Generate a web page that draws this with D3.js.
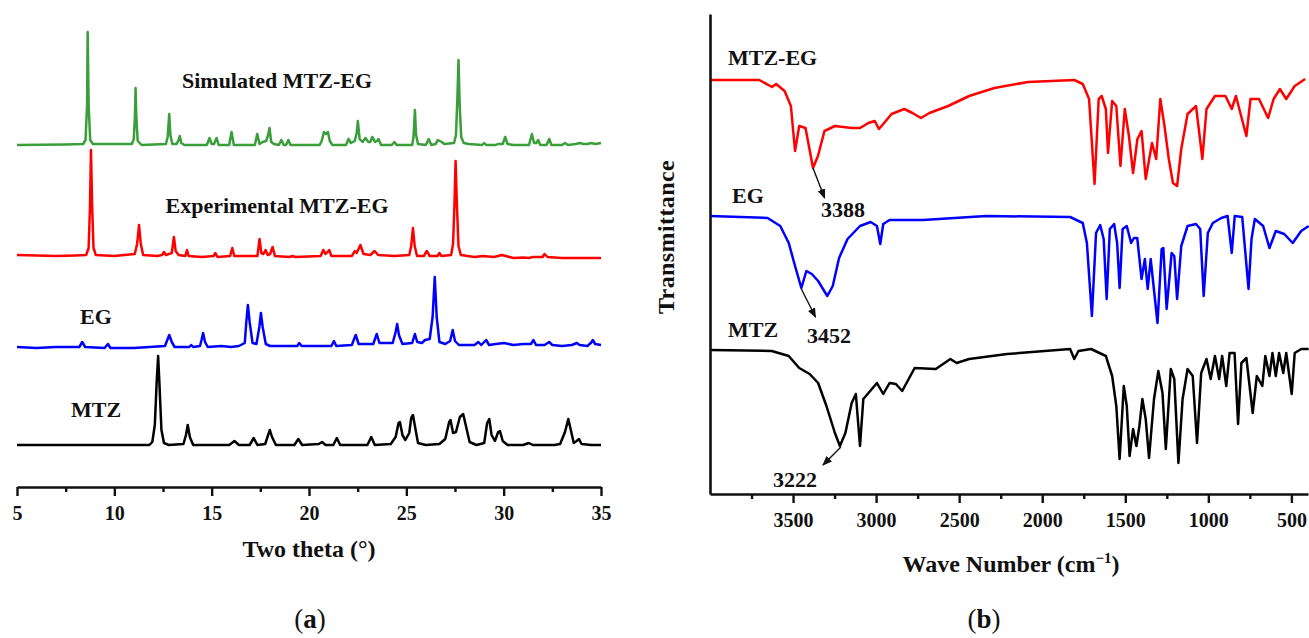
<!DOCTYPE html>
<html lang="en">

<head>
    <script src="https://d3js.org/d3.v7.min.js"></script>
    <style>
        body {
            margin: 0;
            background: #fff;
        }
        
        text {
            font-family: "Liberation Serif", "Times New Roman", serif;
            font-weight: bold;
            fill: #111;
        }
    </style>
</head>

<body>
    <div id="my_dataviz"></div>
    <script>
        // ---------- data: (a) PXRD, [two theta, intensity above own baseline] ----------
        var xrdNames = ["Simulated MTZ-EG", "Experimental MTZ-EG", "EG", "MTZ"];
        var xrdColors = ["#3a9e3a", "#ff0000", "#0000ff", "#000000"];
        var xrdOffsets = [342, 231, 140, 42];

        var simulated = [
            [5, 0], [7.5, 0.5], [8.4, 1], [8.52, 5], [8.6, 40], [8.63, 113], [8.68, 40], [8.76, 5], [8.9, 1],
            [10.9, 1], [11.0, 6], [11.06, 30], [11.09, 57], [11.13, 28], [11.2, 4], [11.4, 0],
            [12.65, 1], [12.74, 8], [12.82, 31], [12.88, 10], [12.98, 1], [13.2, 1], [13.3, 5], [13.36, 9], [13.44, 2], [13.6, 0],
            [14.75, 0], [14.89, 7], [15.0, 1], [15.12, 1], [15.25, 7], [15.36, 0],
            [15.9, 0], [16.02, 13], [16.14, 0],
            [17.22, 0], [17.34, 11], [17.46, 1], [17.62, 3], [17.8, 4], [17.9, 10], [17.97, 17], [18.06, 3], [18.2, 1],
            [18.45, 0], [18.58, 5], [18.7, 0], [18.82, 0], [18.94, 5], [19.05, 0],
            [20.55, 0], [20.65, 4], [20.77, 13], [20.87, 11], [20.97, 13], [21.07, 4], [21.2, 0],
            [21.9, 0], [22.03, 6], [22.15, 2], [22.35, 4], [22.45, 12], [22.51, 24], [22.6, 6], [22.75, 3], [22.9, 7],
            [23.05, 3], [23.15, 3], [23.25, 8], [23.4, 3], [23.5, 4], [23.57, 6], [23.7, 0],
            [24.25, 0], [24.39, 3], [24.5, 0],
            [25.3, 0], [25.37, 8], [25.44, 35], [25.5, 10], [25.6, 1],
            [26.0, 0], [26.15, 6], [26.28, 0], [26.5, 1], [26.62, 5], [26.72, 4], [26.82, 3], [26.95, 1],
            [27.45, 2], [27.55, 10], [27.62, 45], [27.68, 85], [27.74, 40], [27.82, 8], [27.95, 2], [28.2, 1],
            [28.9, 0], [29.0, 2], [29.1, 0], [29.6, 0], [29.7, 1], [29.95, 1], [30.08, 8], [30.2, 1], [30.5, 0],
            [31.3, 0], [31.45, 11], [31.56, 2], [31.68, 2], [31.77, 5], [31.88, 0], [32.2, 0], [32.34, 6], [32.45, 0],
            [33.0, 0], [33.15, 2], [33.3, 0], [33.7, 1], [33.92, 2], [34.1, 1], [34.3, 1], [34.5, 2], [34.7, 1], [35, 2]
        ];

        var experimental = [
            [5, 1], [6, 0.5], [7, 0], [8, 0.5], [8.55, 1], [8.68, 8], [8.75, 50], [8.8, 106], [8.86, 50], [8.93, 8], [9.05, 1],
            [10, 0], [11.05, 2], [11.17, 12], [11.27, 31], [11.36, 12], [11.48, 1], [12.2, 0], [12.45, 1], [12.55, 4], [12.65, 1],
            [12.95, 3], [13.06, 19], [13.15, 5], [13.3, 1], [13.65, 0], [13.73, 6], [13.82, 0], [14.5, -1], [15.1, 0], [15.19, 3],
            [15.3, -1], [15.95, 0], [16.06, 8], [16.16, 0], [17.35, 0], [17.46, 17], [17.55, 3], [17.66, 2], [17.77, 6], [17.88, 1],
            [18.0, 2], [18.13, 9], [18.25, 0], [19.0, -1], [19.15, 0], [19.3, -1], [20.6, 0], [20.73, 6], [20.85, 2], [21.04, 6],
            [21.15, 0], [22.2, 0], [22.36, 5], [22.45, 3], [22.64, 11], [22.8, 2], [23.15, 1], [23.37, 5], [23.55, 1], [24.4, 0],
            [25.15, 1], [25.25, 10], [25.34, 28], [25.43, 10], [25.55, 0], [25.9, 0], [26.05, 5], [26.2, 0], [26.6, 0], [26.7, 3],
            [26.8, 0], [27.3, 1], [27.4, 12], [27.47, 50], [27.53, 95], [27.6, 50], [27.68, 10], [27.8, 1], [28.5, -1], [28.93, 0],
            [29.5, -1], [29.91, 1], [30.5, -2], [31.0, -1.5], [31.3, -2], [31.5, -1], [32.0, -1], [32.1, 2], [32.25, -1], [33, -2],
            [34, -2], [35, -2]
        ];

        var eg = [
            [5, 0], [6, -1], [7, 0], [8.2, 0], [8.35, 5], [8.5, 0], [9.5, -1], [9.67, 3], [9.8, -1], [11, -1], [12.6, 1], [12.7, 6],
            [12.82, 12], [12.95, 5], [13.1, 0], [13.85, 0], [13.95, 2], [14.05, 0], [14.4, 1], [14.48, 7], [14.56, 14], [14.66, 5],
            [14.8, 0], [15.5, 1], [16.0, 0], [16.4, 1], [16.7, 4], [16.78, 25], [16.86, 42], [16.95, 25], [17.1, 4], [17.3, 3],
            [17.45, 20], [17.53, 34], [17.62, 20], [17.78, 3], [18.0, 1], [18.8, 1], [19.4, 1], [19.5, 4], [19.62, 1], [20.5, 1],
            [21.15, 1], [21.28, 6], [21.4, 1], [22.2, 2], [22.4, 12], [22.55, 3], [23.3, 3], [23.48, 13], [23.62, 4], [24.3, 4],
            [24.45, 15], [24.53, 23], [24.62, 12], [24.8, 3], [25.3, 4], [25.44, 13], [25.56, 5], [25.8, 4], [25.96, 7], [26.2, 8],
            [26.35, 30], [26.46, 70], [26.56, 30], [26.7, 5], [27.0, 3], [27.25, 6], [27.38, 17], [27.5, 6], [27.7, 2], [28.5, 2],
            [28.7, 5], [28.85, 2], [29.1, 7], [29.25, 2], [29.6, 3], [30.01, 4], [30.5, 2], [31.0, 3], [31.4, 3], [31.53, 7],
            [31.66, 2], [32.1, 2], [32.34, 5], [32.5, 2], [33.0, 1], [33.5, 2], [33.76, 4], [33.9, 2], [34.3, 1], [34.48, 4],
            [34.58, 7], [34.7, 3], [35, 2]
        ];

        var mtz = [
            [5, 0], [9, 0], [11.8, 0], [11.95, 3], [12.08, 20], [12.18, 65], [12.25, 89], [12.32, 60], [12.42, 15], [12.55, 2],
            [12.8, 0], [13.55, 1], [13.68, 10], [13.77, 20], [13.88, 8], [14.05, 0], [15.9, 0], [16.17, 4], [16.4, 0], [16.95, 0],
            [17.16, 7], [17.35, 0], [17.75, 1], [17.9, 10], [17.99, 15], [18.1, 8], [18.3, 0], [19.25, 0], [19.45, 6], [19.65, 0],
            [20.5, 1], [20.67, 3], [20.85, 0], [21.25, 0], [21.43, 7], [21.6, 0], [22.5, 0], [23.0, 0], [23.2, 8], [23.38, 0],
            [24.2, 1], [24.45, 8], [24.6, 22], [24.67, 23], [24.8, 10], [24.95, 5], [25.15, 12], [25.25, 27], [25.34, 30],
            [25.45, 18], [25.6, 2], [26.0, 0], [26.7, 1], [27.0, 6], [27.2, 23], [27.27, 25], [27.4, 12], [27.55, 13], [27.75, 28],
            [27.92, 31], [28.05, 20], [28.25, 3], [28.6, 0], [29.0, 2], [29.15, 22], [29.26, 26], [29.38, 10], [29.55, 4],
            [29.72, 13], [29.81, 14], [29.95, 4], [30.2, 0], [31.0, 0], [31.29, 2], [31.5, 0], [32.6, 0], [32.9, 1], [33.15, 13],
            [33.32, 26], [33.45, 15], [33.6, 2], [33.75, 4], [33.87, 6], [34.0, 1], [34.5, 0], [35, 0]
        ];

        var xrdSeries = [simulated, experimental, eg, mtz];
        var xrdMajorTicks = [5, 10, 15, 20, 25, 30, 35];
        var xrdMinorTicks = [7.5, 12.5, 17.5, 22.5, 27.5, 32.5];

        // ---------- data: (b) FTIR, [wave number, transmittance relative to own top level] ----------
        var irNames = ["MTZ-EG", "EG", "MTZ"];
        var irColors = ["#ff0000", "#0000ff", "#000000"];
        var irOffsets = [414, 278, 144];

        var irMtzEg = [
            [4000, 0], [3703, 0], [3627, -7], [3602, -4], [3551, -11], [3513, -26], [3488, -71], [3463, -46], [3425, -48],
            [3380, -88], [3350, -76], [3311, -51], [3248, -46], [3147, -48], [3097, -48], [3046, -43], [3008, -41], [2983, -49],
            [2957, -44], [2907, -34], [2831, -29], [2781, -33], [2730, -38], [2679, -33], [2566, -26], [2440, -16], [2288, -8],
            [2086, -2], [1807, 0], [1756, -4], [1718, -19], [1685, -104], [1660, -19], [1642, -16], [1617, -29], [1604, -73],
            [1579, -21], [1554, -26], [1529, -86], [1503, -29], [1478, -56], [1453, -93], [1427, -59], [1402, -51], [1377, -99],
            [1339, -63], [1314, -79], [1289, -19], [1264, -46], [1238, -79], [1213, -103], [1188, -106], [1163, -69], [1125, -34],
            [1074, -26], [1036, -79], [1011, -29], [960, -16], [897, -16], [859, -29], [834, -16], [771, -56], [746, -19],
            [695, -19], [640, -38], [607, -19], [569, -9], [531, -19], [480, -6], [417, 1]
        ];

        var irEg = [
            [4000, 0], [3653, -2], [3577, -10], [3526, -27], [3488, -50], [3450, -72], [3420, -55], [3387, -58], [3349, -65],
            [3294, -80], [3261, -70], [3223, -42], [3172, -23], [3097, -10], [3033, -6], [2995, -10], [2975, -28], [2957, -8],
            [2919, -4], [2717, -4], [2338, 0], [1832, -1], [1756, -7], [1731, -27], [1701, -100], [1676, -17], [1651, -9],
            [1630, -23], [1612, -83], [1593, -13], [1567, -8], [1549, -27], [1534, -72], [1516, -13], [1491, -10], [1465, -27],
            [1448, -22], [1428, -22], [1402, -63], [1382, -43], [1365, -73], [1347, -43], [1306, -107], [1281, -33], [1271, -32],
            [1251, -93], [1221, -37], [1205, -40], [1188, -83], [1163, -30], [1125, -10], [1074, -8], [1049, -13], [1028, -80],
            [1003, -17], [973, -7], [922, -2], [884, 0], [859, -37], [841, 0], [796, -1], [758, -73], [740, -23], [720, -3],
            [670, -10], [632, -32], [594, -15], [543, -18], [492, -27], [441, -15], [396, -10]
        ];

        var irMtz = [
            [4000, 0], [3628, -1], [3526, -6], [3463, -18], [3400, -24], [3349, -33], [3299, -56], [3248, -83], [3218, -96],
            [3185, -83], [3147, -53], [3122, -44], [3097, -96], [3077, -49], [3046, -43], [2995, -33], [2957, -44], [2919, -33],
            [2881, -34], [2843, -41], [2768, -18], [2641, -19], [2553, -9], [2515, -13], [2440, -9], [2212, -4], [1832, 1],
            [1807, -9], [1782, -1], [1706, 1], [1617, -6], [1579, -26], [1554, -56], [1534, -109], [1509, -36], [1491, -56],
            [1474, -106], [1453, -79], [1433, -96], [1415, -76], [1397, -49], [1377, -69], [1357, -108], [1327, -49], [1301, -21],
            [1276, -43], [1256, -99], [1226, -19], [1205, -29], [1180, -113], [1155, -49], [1125, -19], [1094, -26], [1068, -93],
            [1043, -23], [1011, -9], [986, -29], [960, -6], [935, -29], [917, -6], [892, -36], [872, -3], [842, -3], [821, -74],
            [801, -13], [771, -8], [733, -63], [708, -26], [675, -36], [657, -6], [632, -26], [614, -3], [594, -26], [574, -3],
            [549, -23], [531, -3], [498, -44], [480, -3], [441, 1], [396, 1]
        ];

        var irSeries = [irMtzEg, irEg, irMtz];
        var irMajorTicks = [3500, 3000, 2500, 2000, 1500, 1000, 500];
        var irMinorTicks = [3750, 3250, 2750, 2250, 1750, 1250, 750];

        // band annotations: [label, arrow start wn, arrow start value, arrow end wn, arrow end value]
        var irMarks = [
            ["3388", 3380, 326, 3310, 296],
            ["3452", 3450, 205, 3365, 177],
            ["3222", 3212, 47, 3320, 29]
        ];

        // ---------- svg ----------
        var svg = d3.select("#my_dataviz")
            .append("svg")
            .attr("width", 1309)
            .attr("height", 638);

        svg.append("defs").append("marker")
            .attr("id", "arrow")
            .attr("viewBox", "0 0 10 10")
            .attr("refX", 9)
            .attr("refY", 5)
            .attr("markerWidth", 7)
            .attr("markerHeight", 7)
            .attr("orient", "auto")
            .append("path")
            .attr("d", "M0,1 L10,5 L0,9 Z")
            .attr("fill", "#111");

        // ================= (a) PXRD =================
        var xA = d3.scaleLinear().domain([5, 35]).range([17, 601]);
        var yA = d3.scaleLinear().domain([0, 460]).range([487, 27]);

        xrdSeries.forEach(function(s, i) {
            var line = d3.line()
                .x(function(d) { return xA(d[0]); })
                .y(function(d) { return yA(xrdOffsets[i] + d[1]); });
            svg.append("path")
                .datum(s)
                .attr("fill", "none")
                .attr("stroke", xrdColors[i])
                .attr("stroke-width", 2.5)
                .attr("stroke-linejoin", "round")
                .attr("d", line);
        });

        // X axis (major + minor)
        var axA = svg.append("g")
            .attr("transform", "translate(0," + yA(0) + ")")
            .call(d3.axisBottom(xA).tickValues(xrdMajorTicks).tickSize(9).tickSizeOuter(0).tickPadding(10).tickFormat(d3.format("d")));
        svg.append("g")
            .attr("transform", "translate(0," + yA(0) + ")")
            .call(d3.axisBottom(xA).tickValues(xrdMinorTicks).tickSize(5).tickFormat(""))
            .select(".domain").remove();

        svg.append("text")
            .attr("x", 309)
            .attr("y", 557)
            .attr("text-anchor", "middle")
            .style("font-size", "24px")
            .text("Two theta (°)");

        // trace labels
        var xrdLabelPos = [[277, 88, "middle"], [277, 213, "middle"], [96, 324, "middle"], [96, 417, "middle"]];
        xrdNames.forEach(function(n, i) {
            svg.append("text")
                .attr("x", xrdLabelPos[i][0])
                .attr("y", xrdLabelPos[i][1])
                .attr("text-anchor", xrdLabelPos[i][2])
                .style("font-size", "22px")
                .text(n);
        });

        // ================= (b) FTIR =================
        var xB = d3.scaleLinear().domain([4000, 400]).range([710, 1308]);
        var yB = d3.scaleLinear().domain([0, 480]).range([494, 14]);

        irSeries.forEach(function(s, i) {
            var line = d3.line()
                .x(function(d) { return xB(d[0]); })
                .y(function(d) { return yB(irOffsets[i] + d[1]); });
            svg.append("path")
                .datum(s)
                .attr("fill", "none")
                .attr("stroke", irColors[i])
                .attr("stroke-width", 2.5)
                .attr("stroke-linejoin", "round")
                .attr("d", line);
        });

        var axB = svg.append("g")
            .attr("transform", "translate(0," + yB(0) + ")")
            .call(d3.axisBottom(xB).tickValues(irMajorTicks).tickSize(9).tickSizeOuter(0).tickPadding(10).tickFormat(d3.format("d")));
        svg.append("g")
            .attr("transform", "translate(0," + yB(0) + ")")
            .call(d3.axisBottom(xB).tickValues(irMinorTicks).tickSize(5).tickFormat(""))
            .select(".domain").remove();

        var ayB = svg.append("g")
            .attr("transform", "translate(" + xB(4000) + ",0)")
            .call(d3.axisLeft(yB).tickValues([]).tickSizeOuter(0));

        // axis styling
        [axA, axB, ayB].forEach(function(g) {
            g.select(".domain").attr("stroke", "#111").attr("stroke-width", 2.6);
        });
        svg.selectAll(".tick line").attr("stroke", "#111").attr("stroke-width", 2.4);
        svg.selectAll(".tick text")
            .style("font-family", "'Liberation Serif', 'Times New Roman', serif")
            .style("font-weight", "bold")
            .style("font-size", "20px")
            .attr("fill", "#111");

        var wt = svg.append("text")
            .attr("x", 1011)
            .attr("y", 572)
            .attr("text-anchor", "middle")
            .style("font-size", "24px")
            .text("Wave Number (cm");
        wt.append("tspan").attr("dy", -9).style("font-size", "15px").text("−1");
        wt.append("tspan").attr("dy", 9).text(")");

        svg.append("text")
            .attr("transform", "translate(674,237) rotate(-90)")
            .attr("text-anchor", "middle")
            .style("font-size", "24px")
            .style("letter-spacing", "0.4px")
            .text("Transmittance");

        var irLabelPos = [[728, 65], [732, 203], [728, 337]];
        irNames.forEach(function(n, i) {
            svg.append("text")
                .attr("x", irLabelPos[i][0])
                .attr("y", irLabelPos[i][1])
                .style("font-size", "22px")
                .text(n);
        });

        // band arrows + labels
        var irMarkText = [[843, 217], [829, 343], [795, 487]];
        irMarks.forEach(function(m, i) {
            svg.append("line")
                .attr("x1", xB(m[1])).attr("y1", yB(m[2]))
                .attr("x2", xB(m[3])).attr("y2", yB(m[4]))
                .attr("stroke", "#111")
                .attr("stroke-width", 1.4)
                .attr("marker-end", "url(#arrow)");
            svg.append("text")
                .attr("x", irMarkText[i][0])
                .attr("y", irMarkText[i][1])
                .attr("text-anchor", "middle")
                .style("font-size", "22px")
                .text(m[0]);
        });

        // panel letters
        [["a", 310], ["b", 984]].forEach(function(p) {
            var t = svg.append("text")
                .attr("x", p[1])
                .attr("y", 628)
                .attr("text-anchor", "middle")
                .style("font-size", "27px")
                .style("font-weight", "normal");
            t.append("tspan").text("(");
            t.append("tspan").style("font-weight", "bold").text(p[0]);
            t.append("tspan").text(")");
        });
    </script>
</body>

</html>
